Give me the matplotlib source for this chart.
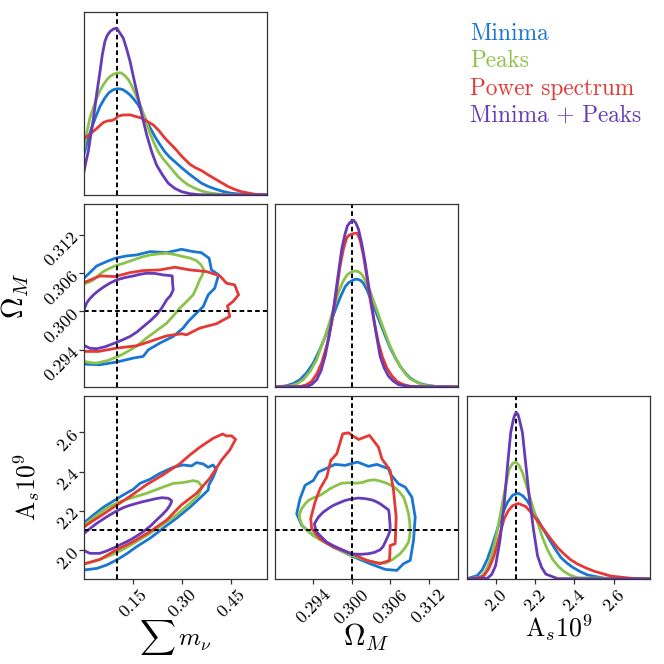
# corner plot of the neutrino mass forecast
import matplotlib
matplotlib.use('Agg')
import matplotlib.pyplot as plt

plt.rcParams['font.family'] = 'cmr10'
plt.rcParams['mathtext.fontset'] = 'cm'
plt.rcParams['axes.formatter.use_mathtext'] = True

names = ['Minima', 'Peaks', 'Power spectrum', 'Minima + Peaks']
colors = ['#1976D2', '#8BC34A', '#E53935', '#673AB7']

truth_m = 0.1
truth_om = 0.3
truth_as = 2.1
xlim_m = (0.0, 0.56)
xlim_om = (0.288, 0.3166)
ylim_om = (0.2882, 0.3168)
xlim_as = (1.852, 2.786)

m_ticks = [0.15, 0.30, 0.45]
om_ticks = [0.294, 0.300, 0.306, 0.312]
as_ticks = [2.0, 2.2, 2.4, 2.6]
m_ticklabels = ['0.15', '0.30', '0.45']
om_ticklabels = ['0.294', '0.300', '0.306', '0.312']
as_ticklabels = ['2.0', '2.2', '2.4', '2.6']

# 1D marginals, height as a fraction of the panel
m_blue_x = [0, .011, .023, .036, .049, .062, .075, .088, .100, .110, .120, .130, .141, .153, .166, .179, .192, .205, .217, .232, .247, .262, .278, .298, .319, .340, .360, .380, .401, .426, .452, .503, .560]
m_blue_y = [.224, .296, .365, .428, .484, .525, .557, .574, .580, .580, .575, .563, .547, .522, .493, .448, .401, .358, .319, .276, .237, .207, .182, .150, .119, .090, .064, .047, .033, .019, .009, .002, 0]
m_green_x = [0, .009, .018, .029, .039, .049, .059, .070, .080, .090, .100, .108, .115, .125, .136, .146, .156, .166, .176, .189, .202, .214, .227, .242, .258, .273, .288, .303, .319, .340, .360, .385, .411, .462, .560]
m_green_y = [.255, .345, .420, .480, .529, .570, .602, .630, .648, .660, .666, .668, .666, .652, .630, .597, .557, .516, .474, .405, .338, .285, .237, .198, .164, .132, .100, .076, .055, .036, .022, .011, .005, 0, 0]
m_red_x = [0, .034, .059, .072, .085, .095, .105, .120, .141, .176, .212, .230, .248, .263, .278, .300, .324, .340, .360, .380, .401, .421, .441, .462, .482, .523, .560]
m_red_y = [.307, .356, .396, .405, .407, .415, .432, .437, .438, .420, .383, .350, .310, .282, .255, .210, .168, .150, .133, .110, .088, .067, .046, .030, .018, .004, 0]
m_purple_x = [0, .006, .013, .020, .029, .039, .049, .056, .064, .071, .080, .090, .100, .110, .120, .130, .141, .153, .166, .178, .192, .207, .222, .240, .258, .278, .299, .324, .350, .401, .560]
m_purple_y = [.128, .182, .237, .319, .420, .555, .675, .766, .839, .872, .894, .907, .912, .885, .858, .801, .730, .631, .529, .431, .328, .237, .164, .110, .064, .036, .018, .007, .002, 0, 0]

om_blue_x = [.28816, .28983, .29090, .29191, .29300, .29400, .29505, .29609, .29690, .29765, .29830, .29896, .29950, .300, .30045, .30089, .30135, .30183, .30235, .30287, .30365, .30443, .30520, .30600, .30680, .30756, .30835, .30913, .31015, .31122, .31330, .31669]
om_blue_y = [0, .007, .020, .040, .080, .132, .208, .296, .372, .442, .498, .548, .570, .580, .588, .589, .583, .567, .532, .488, .420, .351, .282, .214, .160, .113, .077, .049, .027, .013, .002, 0]
om_green_x = [.28816, .29035, .29140, .29243, .29350, .29452, .29545, .29635, .29715, .29791, .29860, .29922, .29985, .30052, .30105, .30157, .30220, .30287, .30365, .30443, .30520, .30600, .30680, .30756, .30835, .30913, .31122, .3133, .31669]
om_green_y = [0, .005, .017, .040, .086, .150, .240, .333, .428, .516, .575, .611, .628, .634, .630, .616, .575, .524, .447, .369, .296, .223, .163, .113, .074, .044, .009, .002, 0]
om_red_x = [.28816, .29191, .29290, .29374, .29455, .29530, .29610, .29687, .29755, .29817, .29870, .29922, .29960, .300, .30045, .30089, .30135, .30183, .30235, .30287, .30350, .30417, .30480, .30548, .30625, .30704, .30800, .30913, .31122, .31669]
om_red_y = [0, .002, .012, .031, .073, .132, .228, .351, .505, .662, .755, .817, .830, .835, .840, .839, .795, .716, .600, .479, .355, .241, .163, .104, .062, .031, .014, .004, 0, 0]
om_purple_x = [.28816, .29296, .29375, .29452, .29520, .29583, .29650, .29713, .29780, .29843, .29890, .29932, .29980, .30026, .30065, .30104, .30155, .30209, .30260, .30313, .30378, .30443, .30505, .30574, .30650, .30730, .30913, .31669]
om_purple_y = [0, .002, .014, .040, .090, .168, .285, .424, .595, .753, .830, .881, .902, .912, .895, .863, .785, .680, .560, .442, .298, .168, .105, .059, .032, .013, .002, 0]

as_blue_x = [1.852, 1.904, 1.930, 1.956, 1.981, 2.007, 2.032, 2.058, 2.085, 2.113, 2.136, 2.160, 2.186, 2.212, 2.241, 2.271, 2.301, 2.331, 2.361, 2.391, 2.430, 2.468, 2.553, 2.786]
as_blue_y = [.002, .018, .050, .109, .185, .273, .355, .418, .458, .469, .455, .427, .378, .327, .272, .218, .165, .118, .088, .064, .040, .022, .004, 0]
as_green_x = [1.852, 1.921, 1.947, 1.973, 1.998, 2.024, 2.046, 2.067, 2.084, 2.101, 2.118, 2.135, 2.160, 2.186, 2.212, 2.237, 2.262, 2.288, 2.318, 2.348, 2.380, 2.416, 2.786]
as_green_y = [0, .009, .042, .109, .220, .364, .490, .600, .630, .640, .620, .582, .495, .400, .310, .227, .162, .109, .069, .040, .020, .007, 0]
as_red_x = [1.852, 1.900, 1.939, 1.965, 1.990, 2.015, 2.041, 2.062, 2.084, 2.113, 2.152, 2.182, 2.212, 2.246, 2.280, 2.314, 2.348, 2.380, 2.416, 2.460, 2.502, 2.587, 2.689, 2.786]
as_red_y = [0, .004, .018, .060, .127, .225, .327, .372, .400, .413, .396, .360, .318, .268, .218, .172, .136, .106, .082, .060, .042, .016, .004, 0]
as_purple_x = [1.852, 1.956, 1.978, 1.998, 2.020, 2.041, 2.058, 2.075, 2.089, 2.097, 2.104, 2.112, 2.119, 2.135, 2.152, 2.169, 2.191, 2.212, 2.232, 2.254, 2.314, 2.786]
as_purple_y = [0, .004, .025, .073, .210, .400, .609, .800, .873, .900, .909, .900, .873, .800, .627, .455, .273, .127, .065, .027, .002, 0]

# 2D contours, Omega_M against sum m_nu
mo_blue_x = [0, .049, .100, .151, .181, .197, .232, .273, .303, .319, .344, .365, .380, .400, .412, .390, .383, .359, .334, .298, .253, .202, .161, .130, .095, .069, .039, 0]
mo_blue_y = [.29178, .29168, .29210, .29272, .29298, .29402, .29506, .29610, .29740, .29844, .29974, .30078, .30260, .30364, .30572, .30650, .30832, .30920, .30936, .30972, .30920, .30936, .30884, .30868, .30832, .30780, .30712, .30520]
mo_green_x = [0, .020, .039, .070, .100, .125, .151, .171, .191, .222, .253, .273, .293, .314, .334, .345, .354, .362, .367, .358, .344, .325, .303, .278, .253, .228, .202, .176, .151, .122, .095, .076, .059, .043, .029, .014, 0]
mo_green_y = [.29220, .29200, .29194, .29230, .29288, .29350, .29428, .29500, .29584, .29700, .29818, .29930, .30052, .30155, .30260, .30380, .30494, .30570, .30650, .30730, .30796, .30835, .30858, .30890, .30910, .30900, .30884, .30850, .30806, .30755, .30712, .30670, .30624, .30560, .30494, .30455, .30432]
mo_red_x = [0, .044, .100, .161, .202, .253, .298, .314, .354, .405, .446, .439, .456, .473, .461, .436, .416, .375, .324, .278, .232, .181, .141, .095, .049, 0]
mo_red_y = [.29376, .29376, .29428, .29464, .29532, .29620, .29652, .29636, .29740, .29808, .29922, .30088, .30156, .30260, .30416, .30442, .30556, .30624, .30650, .30692, .30650, .30640, .30608, .30546, .30556, .30452]
mo_purple_x = [0, .018, .039, .065, .089, .115, .141, .162, .182, .203, .222, .238, .253, .265, .273, .271, .270, .256, .242, .216, .191, .170, .151, .125, .100, .078, .059, .043, .029, .016, .008, 0]
mo_purple_y = [.29470, .29425, .29418, .29450, .29496, .29550, .29610, .29680, .29766, .29855, .29948, .30055, .30182, .30250, .30338, .30450, .30556, .30565, .30572, .30595, .30598, .30580, .30556, .30530, .30494, .30440, .30380, .30320, .30260, .30190, .30130, .30026]

# 2D contours, A_s against sum m_nu
ma_blue_x = [0, .039, .069, .100, .130, .161, .202, .242, .283, .324, .354, .380, .382, .395, .405, .395, .380, .365, .344, .329, .303, .273, .232, .202, .171, .151, .120, .095, .059, .029, 0]
ma_blue_y = [1.898, 1.906, 1.923, 1.949, 1.980, 2.017, 2.060, 2.111, 2.162, 2.218, 2.264, 2.306, 2.332, 2.371, 2.412, 2.434, 2.422, 2.439, 2.446, 2.429, 2.434, 2.422, 2.391, 2.361, 2.340, 2.310, 2.281, 2.255, 2.218, 2.179, 2.139]
ma_green_x = [0, .039, .079, .120, .161, .202, .242, .283, .324, .349, .362, .349, .334, .303, .273, .232, .191, .151, .110, .069, .034, 0]
ma_green_y = [1.929, 1.946, 1.971, 2.003, 2.043, 2.085, 2.131, 2.179, 2.238, 2.276, 2.323, 2.349, 2.354, 2.344, 2.340, 2.315, 2.289, 2.269, 2.247, 2.213, 2.170, 2.128]
ma_red_x = [0, .049, .095, .151, .202, .253, .298, .344, .385, .421, .446, .464, .451, .436, .424, .395, .354, .324, .293, .242, .191, .141, .095, .049, .018, 0]
ma_red_y = [1.929, 1.952, 1.997, 2.043, 2.094, 2.153, 2.230, 2.289, 2.366, 2.459, 2.510, 2.565, 2.583, 2.582, 2.592, 2.570, 2.524, 2.485, 2.440, 2.384, 2.333, 2.274, 2.223, 2.172, 2.139, 2.117]
ma_purple_x = [0, .018, .049, .069, .089, .115, .141, .162, .182, .203, .222, .238, .253, .263, .268, .268, .258, .238, .220, .202, .181, .161, .140, .120, .100, .079, .059, .039, .025, .013, 0]
ma_purple_y = [1.997, 1.983, 1.983, 1.995, 2.009, 2.030, 2.051, 2.072, 2.094, 2.122, 2.153, 2.178, 2.204, 2.228, 2.247, 2.252, 2.264, 2.267, 2.262, 2.255, 2.247, 2.238, 2.228, 2.216, 2.199, 2.179, 2.158, 2.136, 2.118, 2.102, 2.085]

# 2D contours, A_s against Omega_M
oa_blue_x = [.300, .30287, .30522, .30704, .30809, .30913, .30965, .30991, .30939, .30835, .30730, .30600, .30574, .30391, .30261, .30089, .29896, .29739, .29478, .29400, .29270, .29191, .29139, .29217, .29400, .29713, .300]
oa_blue_y = [1.969, 1.930, 1.901, 1.896, 1.930, 1.947, 2.049, 2.168, 2.270, 2.321, 2.338, 2.389, 2.415, 2.437, 2.427, 2.449, 2.432, 2.437, 2.398, 2.355, 2.330, 2.262, 2.185, 2.126, 2.074, 2.015, 1.969]
oa_green_x = [.300, .30145, .30287, .30405, .30522, .30640, .30756, .30825, .30887, .30905, .30913, .30905, .30887, .30850, .30809, .30735, .30652, .30550, .30443, .30350, .30261, .30170, .30078, .29960, .29843, .29750, .29661, .29580, .29504, .29410, .29322, .29265, .29217, .29190, .29181, .29205, .29243, .29320, .29400, .29555, .29713, .29855, .300]
oa_green_y = [1.972, 1.957, 1.942, 1.935, 1.933, 1.952, 1.981, 2.008, 2.040, 2.070, 2.100, 2.142, 2.185, 2.230, 2.270, 2.300, 2.324, 2.340, 2.352, 2.358, 2.355, 2.345, 2.341, 2.343, 2.341, 2.328, 2.313, 2.295, 2.279, 2.268, 2.253, 2.233, 2.211, 2.190, 2.168, 2.142, 2.117, 2.095, 2.074, 2.043, 2.015, 1.993, 1.972]
oa_red_x = [.300, .30235, .30443, .30590, .30600, .30678, .30694, .30652, .30600, .30470, .30417, .30277, .30104, .29948, .29859, .29765, .29671, .29609, .29504, .29426, .29358, .29374, .29504, .29713, .300]
oa_red_y = [1.981, 1.947, 1.930, 1.947, 2.023, 2.032, 2.168, 2.304, 2.406, 2.466, 2.525, 2.585, 2.564, 2.598, 2.593, 2.491, 2.457, 2.372, 2.313, 2.245, 2.160, 2.109, 2.057, 2.015, 1.981]
oa_purple_x = [.300, .3013, .30261, .30355, .30443, .30490, .30522, .30565, .30600, .30598, .30590, .30585, .30574, .30510, .30443, .30380, .30313, .30210, .30104, .30000, .29896, .29805, .29713, .29635, .29557, .29478, .29416, .29430, .29452, .29530, .29609, .29710, .29817, .29905, .300]
oa_purple_y = [1.980, 1.978, 1.981, 1.988, 2.001, 2.018, 2.040, 2.070, 2.100, 2.130, 2.160, 2.185, 2.205, 2.220, 2.236, 2.247, 2.256, 2.262, 2.265, 2.261, 2.253, 2.241, 2.228, 2.212, 2.194, 2.168, 2.134, 2.112, 2.091, 2.065, 2.040, 2.022, 2.006, 1.993, 1.980]


def make_axes(fig, col, row):
    left = [84, 275, 467][col] / 664
    top = [12, 204, 396][row]
    ax = fig.add_axes([left, 1 - (top + 183) / 664, 183 / 664, 183 / 664])
    ax.set_xticks([])
    ax.set_yticks([])
    for spine in ax.spines.values():
        spine.set_linewidth(0.9)
        spine.set_color('#333333')
    ax.tick_params(length=3.5, width=0.9, color='#333333', labelsize=13, pad=2)
    return ax


def set_xaxis(ax, ticks, labels, text, size, label_y):
    ax.set_xticks(ticks)
    ax.set_xticklabels(labels, rotation=45, ha='center', va='top')
    ax.set_xlabel(text, fontsize=size, va='center')
    ax.xaxis.set_label_coords(0.5, label_y)


def set_yaxis(ax, ticks, labels, text, size, label_x):
    ax.set_yticks(ticks)
    ax.set_yticklabels(labels, rotation=45, ha='right', va='center', rotation_mode='anchor')
    ax.set_ylabel(text, fontsize=size, va='center')
    ax.yaxis.set_label_coords(label_x, 0.5)


def dashed(line):
    line.set_dashes((2.4, 1.6))


fig = plt.figure(figsize=(6.64, 6.64), dpi=100)

# diagonal
ax1 = make_axes(fig, 0, 0)
m_1d = [(m_blue_x, m_blue_y), (m_green_x, m_green_y), (m_red_x, m_red_y), (m_purple_x, m_purple_y)]
ax2 = make_axes(fig, 1, 1)
om_1d = [(om_blue_x, om_blue_y), (om_green_x, om_green_y), (om_red_x, om_red_y), (om_purple_x, om_purple_y)]
ax3 = make_axes(fig, 2, 2)
as_1d = [(as_blue_x, as_blue_y), (as_green_x, as_green_y), (as_red_x, as_red_y), (as_purple_x, as_purple_y)]
for ax, curves, xlim, truth in [(ax1, m_1d, xlim_m, truth_m), (ax2, om_1d, xlim_om, truth_om), (ax3, as_1d, xlim_as, truth_as)]:
    dashed(ax.axvline(truth, color='k', lw=1.4))
    for (x, y), c in zip(curves, colors):
        ax.plot(x, y, color=c, lw=2.0)
    ax.set_xlim(xlim)
    ax.set_ylim(0, 1)

# off diagonal
ax4 = make_axes(fig, 0, 1)
mo = [(mo_blue_x, mo_blue_y), (mo_green_x, mo_green_y), (mo_red_x, mo_red_y), (mo_purple_x, mo_purple_y)]
ax5 = make_axes(fig, 0, 2)
ma = [(ma_blue_x, ma_blue_y), (ma_green_x, ma_green_y), (ma_red_x, ma_red_y), (ma_purple_x, ma_purple_y)]
ax6 = make_axes(fig, 1, 2)
oa = [(oa_blue_x, oa_blue_y), (oa_green_x, oa_green_y), (oa_red_x, oa_red_y), (oa_purple_x, oa_purple_y)]
panels = [(ax4, mo, xlim_m, ylim_om, truth_m, truth_om),
          (ax5, ma, xlim_m, xlim_as, truth_m, truth_as),
          (ax6, oa, xlim_om, xlim_as, truth_om, truth_as)]
for ax, curves, xlim, ylim, tx, ty in panels:
    for (x, y), c in zip(curves, colors):
        ax.plot(x, y, color=c, lw=2.0)
    dashed(ax.axvline(tx, color='k', lw=1.4))
    dashed(ax.axhline(ty, color='k', lw=1.4))
    ax.set_xlim(xlim)
    ax.set_ylim(ylim)

set_yaxis(ax4, om_ticks, om_ticklabels, r'$\Omega_M$', 21.5, -0.372)
set_yaxis(ax5, as_ticks, as_ticklabels, r'$\mathrm{A}_s10^9$', 18.5, -0.311)
set_xaxis(ax5, m_ticks, m_ticklabels, r'$\sum\, m_\nu$', 18, -0.322)
set_xaxis(ax6, om_ticks, om_ticklabels, r'$\Omega_M$', 21.5, -0.322)
set_xaxis(ax3, as_ticks, as_ticklabels, r'$\mathrm{A}_s10^9$', 18.5, -0.265)

for i, (name, c) in enumerate(zip(names, colors)):
    fig.text(470 / 664, 1 - (40 + 27.3 * i) / 664, name, color=c, fontsize=16.8, family='cmr10')

fig.savefig('out.png', dpi=100)
